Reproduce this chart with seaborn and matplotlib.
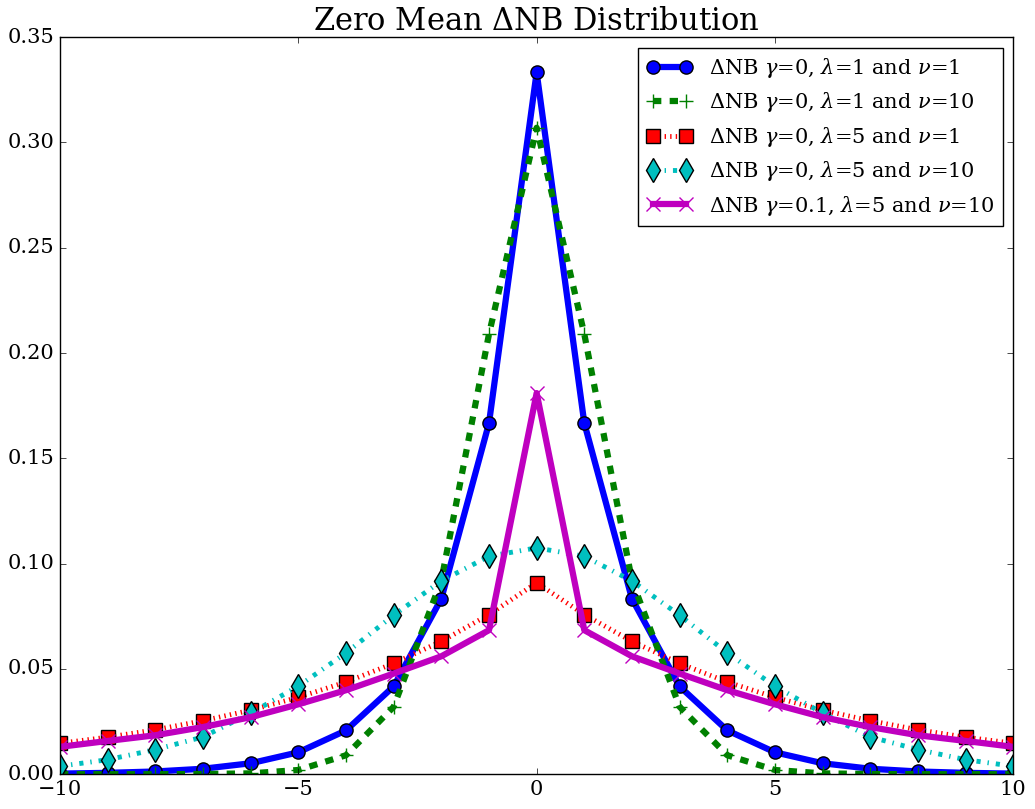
import numpy as np
import pandas as pd
import matplotlib
matplotlib.use('Agg')
import matplotlib.pyplot as plt
import seaborn as sns

# --- data ---
x = list(range(-10, 11))

half_a = [0.3333, 0.1667, 0.0833, 0.0417, 0.0208, 0.0104, 0.0052, 0.0026, 0.0013, 0.00065, 0.0003]
half_b = [0.307, 0.209, 0.092, 0.032, 0.009, 0.002, 0.0004, 0.0001, 0.0, 0.0, 0.0]
half_c = [0.0909, 0.0758, 0.0631, 0.0526, 0.0438, 0.0365, 0.0304, 0.0254, 0.0211, 0.0176, 0.0147]
half_d = [0.1075, 0.1035, 0.0918, 0.0755, 0.0576, 0.0418, 0.029, 0.0177, 0.0117, 0.0069, 0.0038]
half_e = [0.181, 0.0684, 0.056, 0.0478, 0.0399, 0.0332, 0.0271, 0.0224, 0.0185, 0.0158, 0.013]


def mirror(h):
    return h[:0:-1] + h


labels = [
    r'$\Delta$NB $\gamma$=0, $\lambda$=1 and $\nu$=1',
    r'$\Delta$NB $\gamma$=0, $\lambda$=1 and $\nu$=10',
    r'$\Delta$NB $\gamma$=0, $\lambda$=5 and $\nu$=1',
    r'$\Delta$NB $\gamma$=0, $\lambda$=5 and $\nu$=10',
    r'$\Delta$NB $\gamma$=0.1, $\lambda$=5 and $\nu$=10',
]
series = [mirror(h) for h in [half_a, half_b, half_c, half_d, half_e]]

# --- style: old matplotlib look ---
plt.style.use('classic')
plt.rcParams['figure.facecolor'] = 'white'
plt.rcParams['font.family'] = 'serif'
plt.rcParams['font.serif'] = ['DejaVu Serif']
plt.rcParams['mathtext.fontset'] = 'dejavuserif'
plt.rcParams['legend.numpoints'] = 2

fig = plt.figure(figsize=(10.35, 8.09), dpi=100)
ax = fig.add_axes([0.058, 0.043, 0.921, 0.911])

styles = [
    dict(color='b', ls='-', marker='o', ms=9.5, mec='k', mew=1, lw=4.5),
    dict(color='g', ls='--', marker='+', ms=10, mec='g', mew=1, lw=4.5),
    dict(color='r', ls=':', marker='s', ms=10.5, mec='k', mew=1, lw=3.5),
    dict(color='c', ls='-.', marker='d', ms=12, mec='k', mew=1, lw=3.5),
    dict(color='m', ls='-', marker='x', ms=10, mec='m', mew=1, lw=4.5),
]

for y, lab, st in zip(series, labels, styles):
    sns.lineplot(x=x, y=y, ax=ax, label=lab, **st)

ax.set_xlim(-10, 10)
ax.set_ylim(0, 0.35)
ax.set_xticks([-10, -5, 0, 5, 10])
ax.set_yticks(np.arange(0, 0.351, 0.05))
ax.yaxis.set_major_formatter(matplotlib.ticker.FormatStrFormatter('%.2f'))
ax.tick_params(labelsize=15)
ax.set_title(r'Zero Mean $\Delta$NB Distribution', fontsize=22)

ax.legend(loc='upper right', fontsize=15, numpoints=2, frameon=True,
          borderaxespad=0.5, handlelength=2.2, labelspacing=0.5, borderpad=0.4)

fig.savefig('out.png', dpi=100)
